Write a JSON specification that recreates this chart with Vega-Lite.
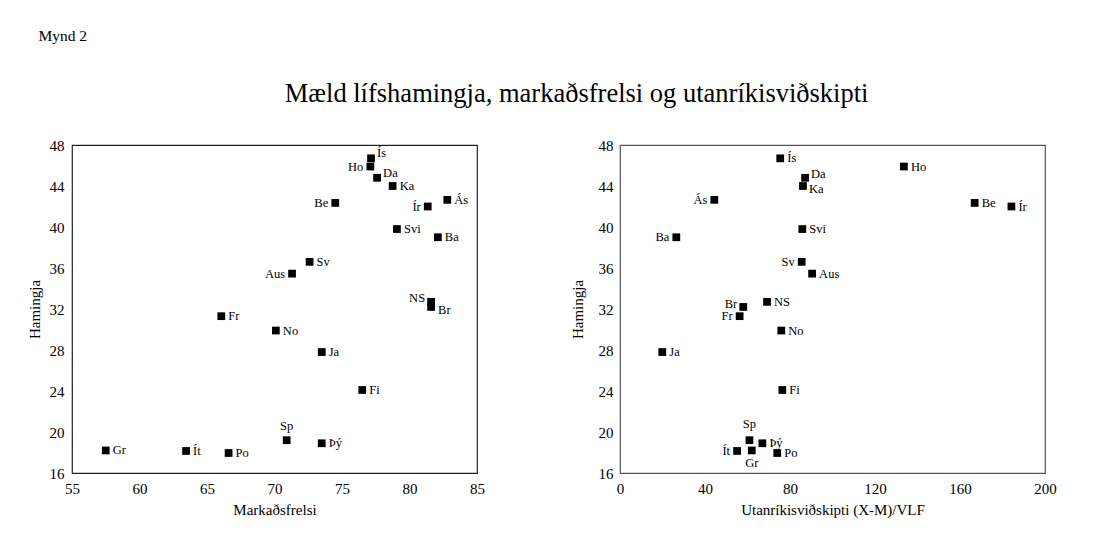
{
  "$schema": "https://vega.github.io/schema/vega-lite/v6.json",
  "padding": {"left": 26, "top": 29, "right": 0, "bottom": 0},
  "config": {
    "font": "Liberation Serif",
    "view": {"stroke": "#222", "strokeWidth": 1.2},
    "axis": {
      "grid": false, "ticks": false, "domain": false, "labelFlush": false,
      "labelFont": "Liberation Serif", "labelFontSize": 15, "labelColor": "#000",
      "titleFont": "Liberation Serif", "titleFontSize": 15, "titleFontWeight": "normal", "titleColor": "#000"
    },
    "text": {"font": "Liberation Serif", "fontSize": 12.5, "color": "#000", "baseline": "middle"},
    "title": {"font": "Liberation Serif", "fontWeight": "normal", "color": "#000"}
  },
  "title": {"text": "Mynd 2", "anchor": "start", "frame": "bounds", "fontSize": 15.5, "dx": 12, "offset": 36},
  "datasets": {
    "d": [
      {"n": "Ís", "mf": 77.15, "ut": 75.4, "h": 46.7},
      {"n": "Ho", "mf": 77.1, "ut": 133.6, "h": 45.9},
      {"n": "Da", "mf": 77.6, "ut": 87.1, "h": 44.8},
      {"n": "Ka", "mf": 78.75, "ut": 86.1, "h": 44.0},
      {"n": "Be", "mf": 74.5, "ut": 166.9, "h": 42.35},
      {"n": "Ír", "mf": 81.35, "ut": 184.2, "h": 42.0},
      {"n": "Ás", "mf": 82.8, "ut": 44.4, "h": 42.65},
      {"n": "Svi", "mf": 79.07, "ut": 85.8, "h": 39.8},
      {"n": "Ba", "mf": 82.1, "ut": 26.5, "h": 39.0},
      {"n": "Sv", "mf": 72.6, "ut": 85.5, "h": 36.6},
      {"n": "Aus", "mf": 71.3, "ut": 90.4, "h": 35.45},
      {"n": "NS", "mf": 81.6, "ut": 69.2, "h": 32.7},
      {"n": "Br", "mf": 81.6, "ut": 58.0, "h": 32.2},
      {"n": "Fr", "mf": 66.06, "ut": 56.3, "h": 31.3},
      {"n": "No", "mf": 70.1, "ut": 75.9, "h": 29.9},
      {"n": "Ja", "mf": 73.5, "ut": 19.9, "h": 27.8},
      {"n": "Fi", "mf": 76.5, "ut": 76.4, "h": 24.1},
      {"n": "Sp", "mf": 70.9, "ut": 60.9, "h": 19.2},
      {"n": "Þý", "mf": 73.5, "ut": 67.0, "h": 18.9},
      {"n": "Gr", "mf": 57.5, "ut": 62.0, "h": 18.2},
      {"n": "Ít", "mf": 63.45, "ut": 55.1, "h": 18.15},
      {"n": "Po", "mf": 66.6, "ut": 74.0, "h": 17.95}
    ]
  },
  "vconcat": [
    {
      "title": {"text": "Mæld lífshamingja, markaðsfrelsi og utanríkisviðskipti", "anchor": "middle", "fontSize": 26.5, "offset": 30, "dx": 35},
      "spacing": 83,
      "hconcat": [
        {
          "width": 405, "height": 328,
          "data": {"name": "d"},
          "encoding": {
            "x": {"field": "mf", "type": "quantitative", "title": "Markaðsfrelsi",
                  "scale": {"domain": [55, 85], "nice": false, "zero": false},
                  "axis": {"values": [55, 60, 65, 70, 75, 80, 85], "labelPadding": 8, "titlePadding": 6, "labelFont": "Liberation Serif", "titleFont": "Liberation Serif"}},
            "y": {"field": "h", "type": "quantitative", "title": "Hamingja",
                  "scale": {"domain": [16, 48], "nice": false, "zero": false},
                  "axis": {"values": [16, 20, 24, 28, 32, 36, 40, 44, 48], "labelPadding": 8, "titlePadding": 7, "labelFont": "Liberation Serif", "titleFont": "Liberation Serif"}}
          },
          "layer": [
            {"mark": {"type": "point", "shape": "square", "filled": true, "color": "#000", "size": 60, "opacity": 1}},
            {"transform": [{"filter": "indexof(['Ho','Be','Ír','Aus','NS','Sp','Ís','Da','Br'], datum.n) < 0"}],
             "mark": {"type": "text", "align": "left", "dx": 7},
             "encoding": {"text": {"field": "n"}}},
            {"transform": [{"filter": "indexof(['Ís','Da'], datum.n) >= 0"}],
             "mark": {"type": "text", "align": "left", "dx": 6, "dy": -5},
             "encoding": {"text": {"field": "n"}}},
            {"transform": [{"filter": "datum.n == 'Br'"}],
             "mark": {"type": "text", "align": "left", "dx": 7, "dy": 3},
             "encoding": {"text": {"field": "n"}}},
            {"transform": [{"filter": "indexof(['Ho','Be','Ír','Aus'], datum.n) >= 0"}],
             "mark": {"type": "text", "align": "right", "dx": -7},
             "encoding": {"text": {"field": "n"}}},
            {"transform": [{"filter": "datum.n == 'NS'"}],
             "mark": {"type": "text", "align": "right", "dx": -6, "dy": -4},
             "encoding": {"text": {"field": "n"}}},
            {"transform": [{"filter": "datum.n == 'Sp'"}],
             "mark": {"type": "text", "align": "center", "dy": -14},
             "encoding": {"text": {"field": "n"}}}
          ]
        },
        {
          "width": 425, "height": 328,
          "data": {"name": "d"},
          "view": {"stroke": "#555"},
          "encoding": {
            "x": {"field": "ut", "type": "quantitative", "title": "Utanríkisviðskipti (X-M)/VLF",
                  "scale": {"domain": [0, 200], "nice": false},
                  "axis": {"values": [0, 40, 80, 120, 160, 200], "labelPadding": 8, "titlePadding": 6, "labelFont": "Liberation Serif", "titleFont": "Liberation Serif"}},
            "y": {"field": "h", "type": "quantitative", "title": "Hamingja",
                  "scale": {"domain": [16, 48], "nice": false, "zero": false},
                  "axis": {"values": [16, 20, 24, 28, 32, 36, 40, 44, 48], "labelPadding": 7, "titlePadding": 13, "labelFont": "Liberation Serif", "titleFont": "Liberation Serif"}}
          },
          "layer": [
            {"mark": {"type": "point", "shape": "square", "filled": true, "color": "#000", "size": 60, "opacity": 1}},
            {"transform": [{"filter": "indexof(['Ás','Ba','Sv','Br','Fr','Ít','Sp','Gr','Da','Ka'], datum.n) < 0"}],
             "mark": {"type": "text", "align": "left", "dx": 7},
             "encoding": {"text": {"field": "n"}}},
            {"transform": [{"filter": "datum.n == 'Da'"}],
             "mark": {"type": "text", "align": "left", "dx": 6, "dy": -4},
             "encoding": {"text": {"field": "n"}}},
            {"transform": [{"filter": "datum.n == 'Ka'"}],
             "mark": {"type": "text", "align": "left", "dx": 6, "dy": 3},
             "encoding": {"text": {"field": "n"}}},
            {"transform": [{"filter": "indexof(['Ás','Ba','Sv','Fr','Ít'], datum.n) >= 0"}],
             "mark": {"type": "text", "align": "right", "dx": -7},
             "encoding": {"text": {"field": "n"}}},
            {"transform": [{"filter": "datum.n == 'Br'"}],
             "mark": {"type": "text", "align": "right", "dx": -6, "dy": -3},
             "encoding": {"text": {"field": "n"}}},
            {"transform": [{"filter": "datum.n == 'Sp'"}],
             "mark": {"type": "text", "align": "center", "dy": -16},
             "encoding": {"text": {"field": "n"}}},
            {"transform": [{"filter": "datum.n == 'Gr'"}],
             "mark": {"type": "text", "align": "center", "dy": 13},
             "encoding": {"text": {"field": "n"}}}
          ]
        }
      ]
    }
  ]
}
